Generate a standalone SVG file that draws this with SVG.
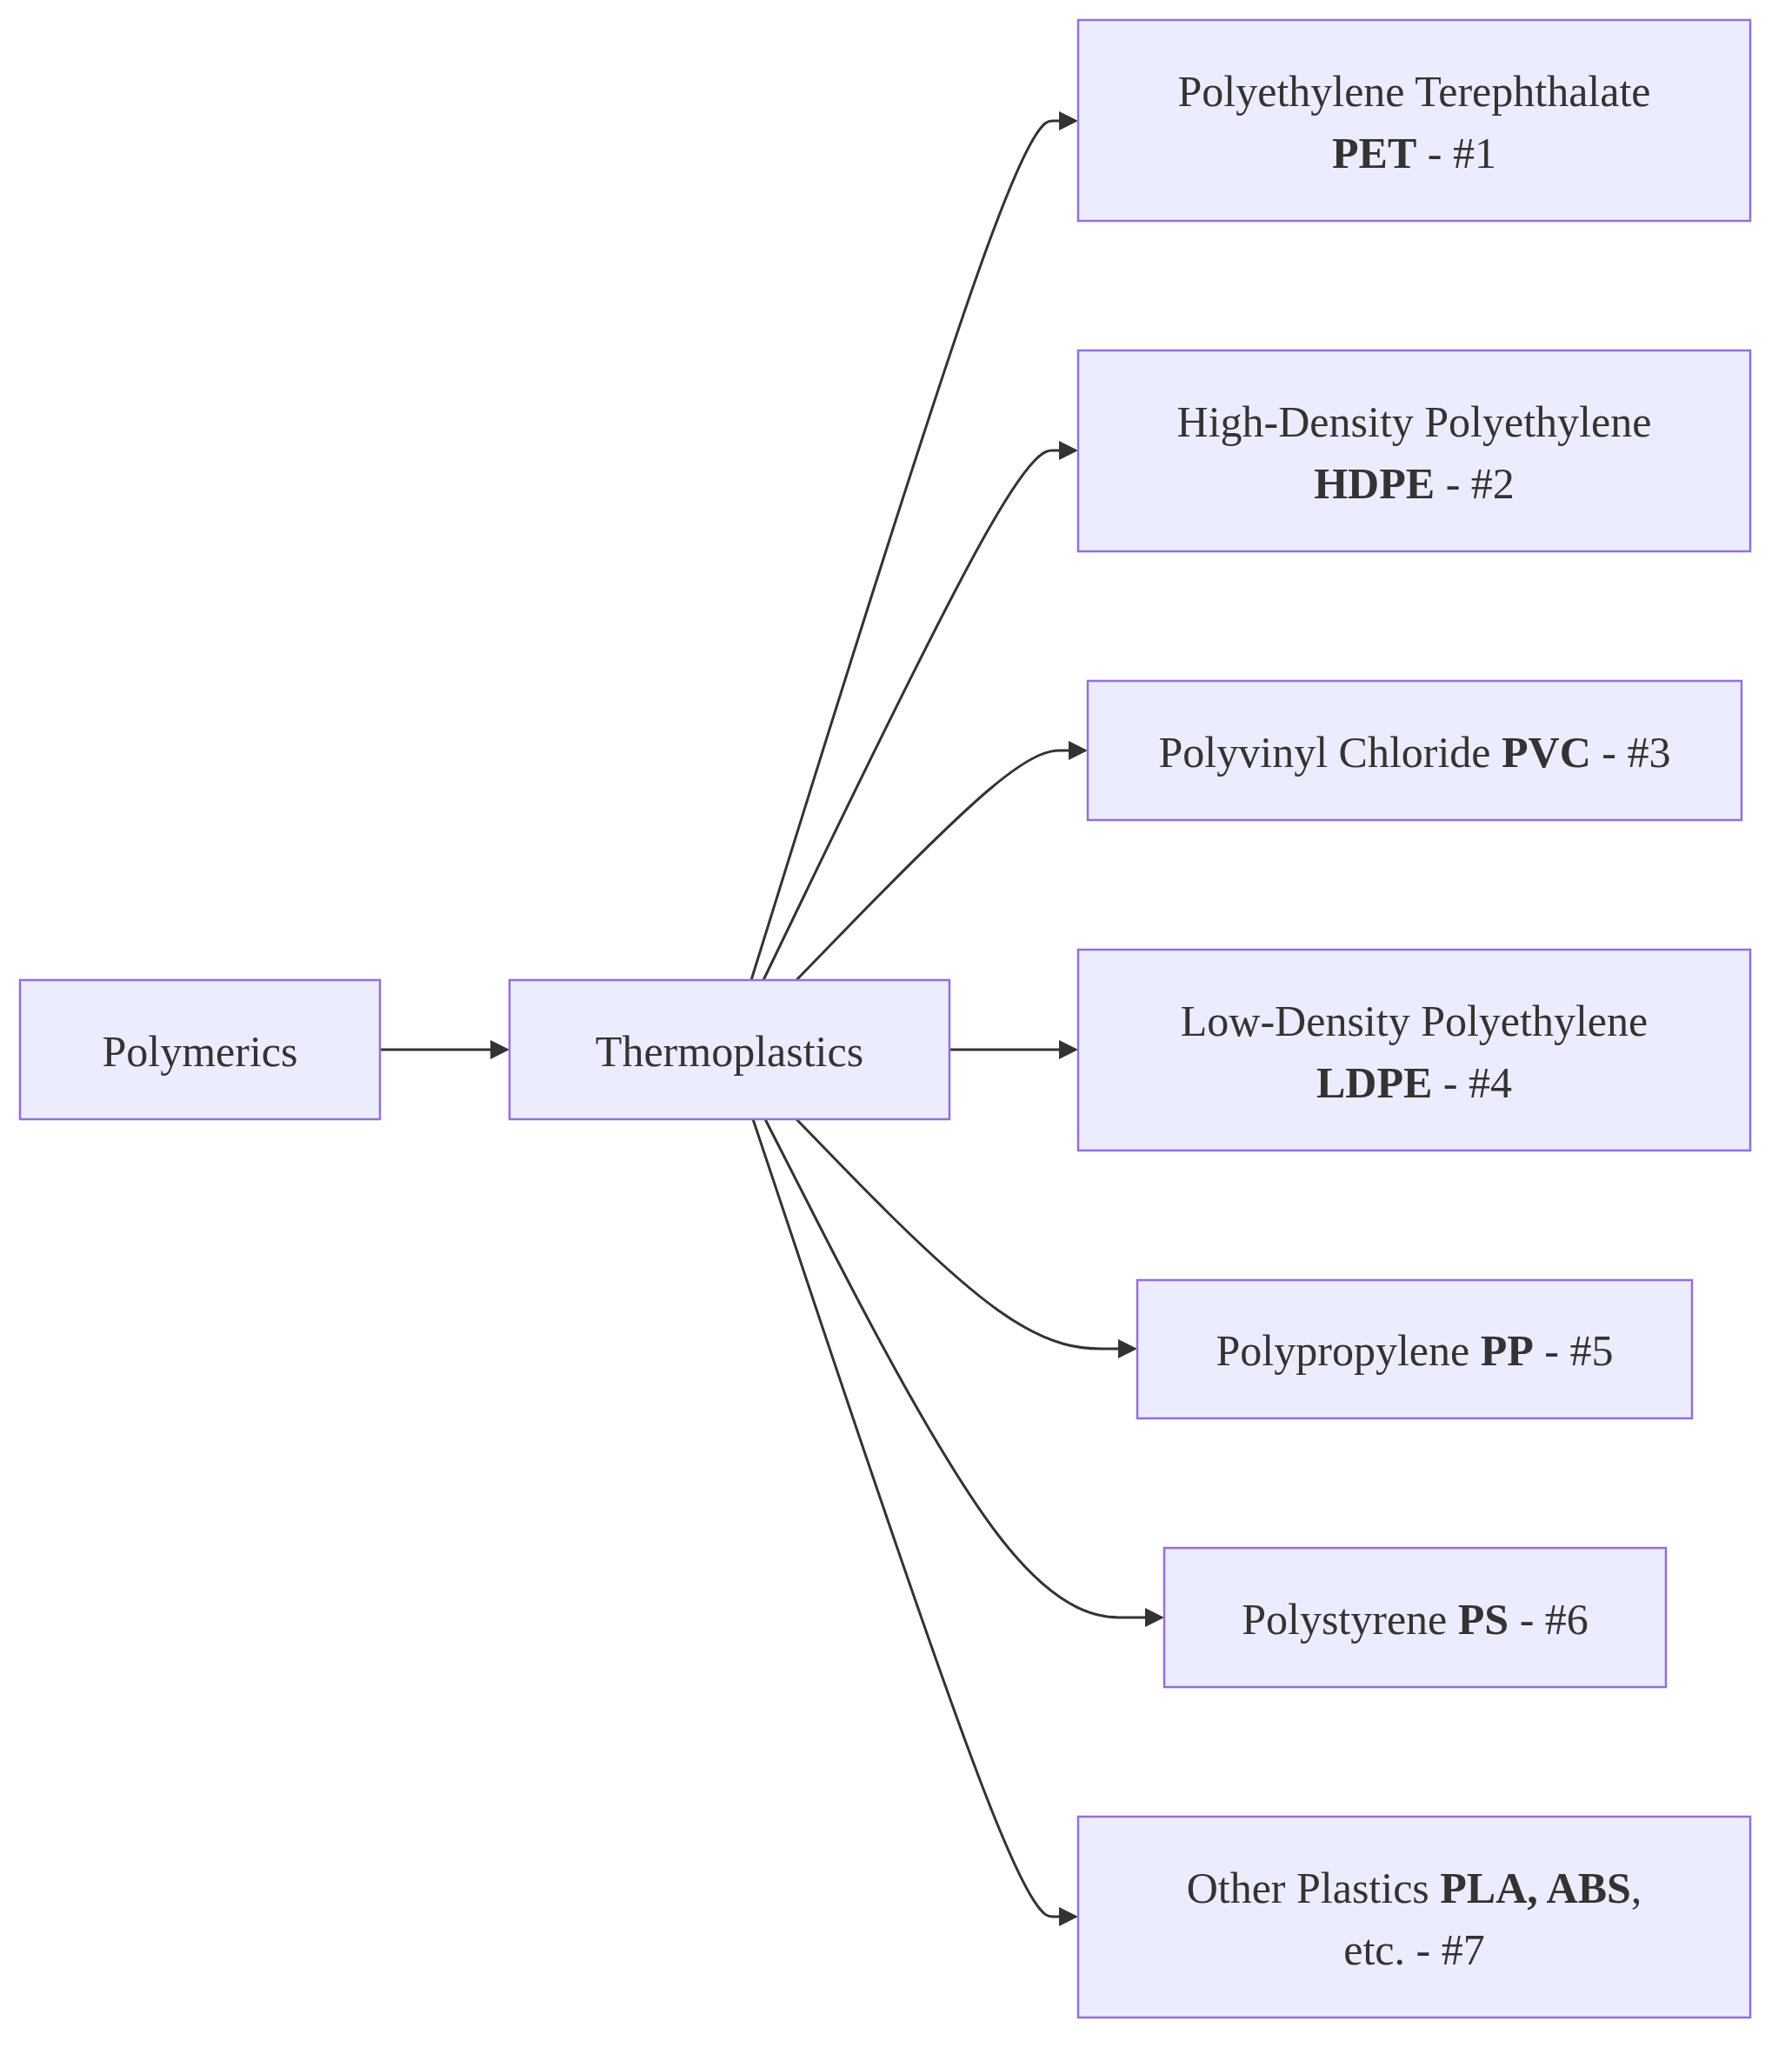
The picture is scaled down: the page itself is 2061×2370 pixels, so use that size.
<svg xmlns="http://www.w3.org/2000/svg" width="2061" height="2370" viewBox="0 0 2061 2370">
<style>
.node rect{fill:#ECECFF;stroke:#9370DB;stroke-width:2.5}
.node text{font-family:"Liberation Serif","Times New Roman",serif;font-size:50px;fill:#333333;text-anchor:middle}
.b{font-weight:bold}
.edge{fill:none;stroke:#333333;stroke-width:3;marker-end:url(#arrow)}
</style>
<defs>
<marker id="arrow" viewBox="0 0 10 10" refX="0" refY="5" markerUnits="userSpaceOnUse" markerWidth="22" markerHeight="22" orient="auto">
<path d="M0,0 L10,5 L0,10 z" fill="#333333"/>
</marker>
</defs>
<rect width="2061" height="2370" fill="#ffffff"/>
<g id="connectors">
<path class="edge" d="M437,1207 L564,1207"/>
<path class="edge" d="M1092,1207 L1218,1207"/>
<path class="edge" d="M864,1127 L915.3,962.3 C966.7,797.7 1069.3,468.3 1128.3,303.7 C1187.3,139 1202.7,139 1210.3,139 L1218,139"/>
<path class="edge" d="M878,1127 L927,1025.5 C976,924 1074,721 1130.7,619.5 C1187.3,518 1202.7,518 1210.3,518 L1218,518"/>
<path class="edge" d="M916,1127 L958.7,1083 C1001.3,1039 1086.7,951 1138.8,907 C1191,863 1210,863 1219.5,863 L1229,863"/>
<path class="edge" d="M916,1287 L958.7,1331 C1001.3,1375 1086.7,1463 1148.3,1507 C1210,1551 1248,1551 1267,1551 L1286,1551"/>
<path class="edge" d="M880,1287 L928.7,1382.5 C977.3,1478 1074.7,1669 1147.5,1764.5 C1220.3,1860 1268.7,1860 1292.8,1860 L1317,1860"/>
<path class="edge" d="M866,1287 L917,1439.8 C968,1592.7 1070,1898.3 1128.7,2051.2 C1187.3,2204 1202.7,2204 1210.3,2204 L1218,2204"/>
</g>
<g id="polymerics" class="node"><rect x="23" y="1127" width="414" height="160"/><text x="230" y="1226">Polymerics</text></g>
<g id="thermoplastics" class="node"><rect x="586" y="1127" width="506" height="160"/><text x="839" y="1226">Thermoplastics</text></g>
<g id="pet" class="node"><rect x="1240" y="23" width="773" height="231"/><text x="1626.5" y="122">Polyethylene Terephthalate</text><text x="1626.5" y="193"><tspan class="b">PET</tspan> - #1</text></g>
<g id="hdpe" class="node"><rect x="1240" y="403" width="773" height="231"/><text x="1626.5" y="502">High-Density Polyethylene</text><text x="1626.5" y="573"><tspan class="b">HDPE</tspan> - #2</text></g>
<g id="pvc" class="node"><rect x="1251" y="783" width="752" height="160"/><text x="1627" y="882">Polyvinyl Chloride <tspan class="b">PVC</tspan> - #3</text></g>
<g id="ldpe" class="node"><rect x="1240" y="1092" width="773" height="231"/><text x="1626.5" y="1191">Low-Density Polyethylene</text><text x="1626.5" y="1262"><tspan class="b">LDPE</tspan> - #4</text></g>
<g id="pp" class="node"><rect x="1308" y="1472" width="638" height="159"/><text x="1627" y="1570">Polypropylene <tspan class="b">PP</tspan> - #5</text></g>
<g id="ps" class="node"><rect x="1339" y="1780" width="577" height="160"/><text x="1627.5" y="1879">Polystyrene <tspan class="b">PS</tspan> - #6</text></g>
<g id="other" class="node"><rect x="1240" y="2089" width="773" height="231"/><text x="1626.5" y="2188">Other Plastics <tspan class="b">PLA, ABS</tspan>,</text><text x="1626.5" y="2259">etc. - #7</text></g>
</svg>
